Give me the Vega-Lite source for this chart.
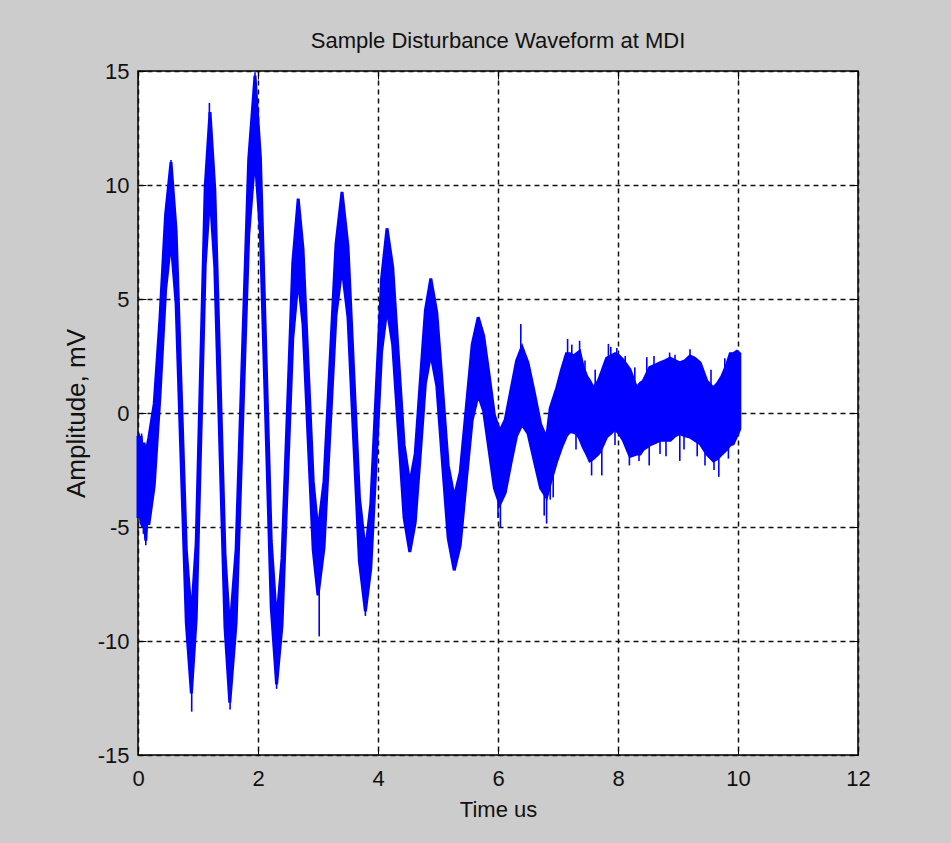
{
  "$schema": "https://vega.github.io/schema/vega-lite/v6.json",
  "width": 720,
  "height": 684,
  "autosize": {"type": "none"},
  "padding": {"left": 138, "top": 71, "right": 93, "bottom": 88},
  "background": "#cccccc",
  "config": {
    "view": {"fill": "white", "stroke": "black", "strokeWidth": 1.5},
    "axis": {
      "labelFont": "Liberation Sans",
      "labelFontSize": 22,
      "labelColor": "#111111",
      "labelFlush": false,
      "titleFont": "Liberation Sans",
      "titleFontSize": 22,
      "titleFontWeight": "normal",
      "titleColor": "#111111",
      "domain": false,
      "tickColor": "black",
      "tickSize": -8,
      "tickWidth": 1,
      "zindex": 1
    }
  },
  "title": {
    "text": "Sample Disturbance Waveform at MDI",
    "font": "Liberation Sans",
    "fontSize": 22,
    "fontWeight": "normal",
    "color": "#111111",
    "anchor": "middle",
    "offset": 7
  },
  "datasets": {
    "wave": [
      {"t": 0.00, "hi": -1.0, "lo": -4.6},
      {"t": 0.03, "hi": -1.6, "lo": -4.3},
      {"t": 0.05, "hi": -1.0, "lo": -4.8},
      {"t": 0.08, "hi": -1.8, "lo": -5.0},
      {"t": 0.10, "hi": -1.3, "lo": -4.5},
      {"t": 0.13, "hi": -2.0, "lo": -5.6},
      {"t": 0.15, "hi": -1.5, "lo": -4.6},
      {"t": 0.18, "hi": -1.1, "lo": -4.9},
      {"t": 0.27, "hi": 0.4, "lo": -3.2},
      {"t": 0.365, "hi": 4.1, "lo": 0.7},
      {"t": 0.46, "hi": 8.7, "lo": 5.4},
      {"t": 0.55, "hi": 11.0, "lo": 7.6},
      {"t": 0.635, "hi": 8.0, "lo": 4.8},
      {"t": 0.72, "hi": 1.0, "lo": -2.2},
      {"t": 0.805, "hi": -6.0, "lo": -9.2},
      {"t": 0.89, "hi": -9.0, "lo": -12.3},
      {"t": 0.97, "hi": -5.7, "lo": -9.0},
      {"t": 1.045, "hi": 2.1, "lo": -1.3},
      {"t": 1.12, "hi": 9.9, "lo": 6.5},
      {"t": 1.2, "hi": 13.2, "lo": 9.7},
      {"t": 1.28, "hi": 9.8, "lo": 6.4},
      {"t": 1.365, "hi": 1.8, "lo": -1.5},
      {"t": 1.45, "hi": -6.2, "lo": -9.4},
      {"t": 1.53, "hi": -9.6, "lo": -12.7},
      {"t": 1.635, "hi": -6.0, "lo": -9.2},
      {"t": 1.74, "hi": 2.6, "lo": -0.7},
      {"t": 1.845, "hi": 11.1, "lo": 7.8},
      {"t": 1.95, "hi": 14.8, "lo": 11.3},
      {"t": 2.04, "hi": 11.2, "lo": 7.9},
      {"t": 2.13, "hi": 2.8, "lo": -0.3},
      {"t": 2.22, "hi": -5.6, "lo": -8.5},
      {"t": 2.31, "hi": -9.2, "lo": -11.9},
      {"t": 2.40, "hi": -6.4, "lo": -9.3},
      {"t": 2.49, "hi": 0.1, "lo": -3.0},
      {"t": 2.58, "hi": 6.6, "lo": 3.3},
      {"t": 2.67, "hi": 9.4, "lo": 5.9},
      {"t": 2.75, "hi": 7.2, "lo": 3.9},
      {"t": 2.835, "hi": 2.1, "lo": -1.1},
      {"t": 2.92, "hi": -3.0, "lo": -6.0},
      {"t": 3.0, "hi": -5.2, "lo": -8.0},
      {"t": 3.10, "hi": -3.0, "lo": -5.9},
      {"t": 3.20, "hi": 2.2, "lo": -0.8},
      {"t": 3.30, "hi": 7.4, "lo": 4.3},
      {"t": 3.40, "hi": 9.7, "lo": 6.4},
      {"t": 3.50, "hi": 7.3, "lo": 4.2},
      {"t": 3.595, "hi": 1.8, "lo": -1.2},
      {"t": 3.69, "hi": -3.7, "lo": -6.5},
      {"t": 3.79, "hi": -6.1, "lo": -8.7},
      {"t": 3.88, "hi": -4.0, "lo": -6.8},
      {"t": 3.97, "hi": 1.0, "lo": -2.1},
      {"t": 4.06, "hi": 5.9, "lo": 2.7},
      {"t": 4.15, "hi": 8.1, "lo": 4.6},
      {"t": 4.245, "hi": 6.4, "lo": 3.0},
      {"t": 4.34, "hi": 2.5, "lo": -0.8},
      {"t": 4.435, "hi": -1.4, "lo": -4.6},
      {"t": 4.53, "hi": -3.1, "lo": -6.1},
      {"t": 4.62, "hi": -1.8, "lo": -4.8},
      {"t": 4.705, "hi": 1.4, "lo": -1.8},
      {"t": 4.79, "hi": 4.5, "lo": 1.3},
      {"t": 4.88, "hi": 5.9, "lo": 2.6},
      {"t": 4.98, "hi": 4.4, "lo": 1.2},
      {"t": 5.075, "hi": 1.1, "lo": -2.2},
      {"t": 5.17, "hi": -2.3, "lo": -5.5},
      {"t": 5.27, "hi": -3.7, "lo": -6.9},
      {"t": 5.37, "hi": -2.6, "lo": -5.8},
      {"t": 5.47, "hi": 0.2, "lo": -3.0},
      {"t": 5.57, "hi": 3.0, "lo": -0.3},
      {"t": 5.67, "hi": 4.2, "lo": 0.8},
      {"t": 5.76, "hi": 3.4, "lo": 0.1},
      {"t": 5.85, "hi": 1.7, "lo": -1.6},
      {"t": 5.94, "hi": -0.1, "lo": -3.3},
      {"t": 6.03, "hi": -0.8, "lo": -4.0},
      {"t": 6.12, "hi": -0.3, "lo": -3.5},
      {"t": 6.215, "hi": 1.0, "lo": -2.2},
      {"t": 6.31, "hi": 2.3, "lo": -1.0},
      {"t": 6.40, "hi": 2.9, "lo": -0.5},
      {"t": 6.50, "hi": 2.2, "lo": -0.9},
      {"t": 6.605, "hi": 0.9, "lo": -2.1},
      {"t": 6.71, "hi": -0.5, "lo": -3.3},
      {"t": 6.81, "hi": -1.1, "lo": -3.7},
      {"t": 6.87, "hi": 0.2, "lo": -3.1},
      {"t": 6.98, "hi": 1.1, "lo": -2.1},
      {"t": 7.06, "hi": 1.9, "lo": -1.5},
      {"t": 7.14, "hi": 2.6, "lo": -1.0},
      {"t": 7.20, "hi": 2.6, "lo": -0.8},
      {"t": 7.26, "hi": 2.5, "lo": -0.85},
      {"t": 7.31, "hi": 2.6, "lo": -0.9},
      {"t": 7.36, "hi": 2.7, "lo": -1.1},
      {"t": 7.42, "hi": 2.0, "lo": -1.5},
      {"t": 7.48, "hi": 1.6, "lo": -1.8},
      {"t": 7.53, "hi": 1.4, "lo": -2.1},
      {"t": 7.59, "hi": 1.1, "lo": -2.0},
      {"t": 7.67, "hi": 1.4, "lo": -1.8},
      {"t": 7.70, "hi": 1.6, "lo": -1.7},
      {"t": 7.81, "hi": 2.4, "lo": -1.05},
      {"t": 7.88, "hi": 2.5, "lo": -0.9},
      {"t": 7.95, "hi": 2.6, "lo": -0.7},
      {"t": 8.02, "hi": 2.5, "lo": -0.9},
      {"t": 8.09, "hi": 2.3, "lo": -1.2},
      {"t": 8.20, "hi": 1.9, "lo": -1.9},
      {"t": 8.31, "hi": 1.1, "lo": -1.8},
      {"t": 8.37, "hi": 1.3, "lo": -1.8},
      {"t": 8.42, "hi": 1.4, "lo": -1.6},
      {"t": 8.53, "hi": 2.0, "lo": -1.4},
      {"t": 8.62, "hi": 2.1, "lo": -1.3},
      {"t": 8.70, "hi": 2.2, "lo": -1.2},
      {"t": 8.79, "hi": 2.3, "lo": -1.2},
      {"t": 8.87, "hi": 2.4, "lo": -1.2},
      {"t": 8.95, "hi": 2.3, "lo": -1.0},
      {"t": 9.03, "hi": 2.2, "lo": -0.9},
      {"t": 9.12, "hi": 2.3, "lo": -1.0},
      {"t": 9.20, "hi": 2.5, "lo": -1.05},
      {"t": 9.28, "hi": 2.4, "lo": -1.2},
      {"t": 9.37, "hi": 2.2, "lo": -1.35},
      {"t": 9.48, "hi": 1.4, "lo": -1.8},
      {"t": 9.59, "hi": 1.1, "lo": -2.1},
      {"t": 9.66, "hi": 1.3, "lo": -2.0},
      {"t": 9.73, "hi": 1.6, "lo": -1.8},
      {"t": 9.81, "hi": 2.1, "lo": -1.6},
      {"t": 9.87, "hi": 2.6, "lo": -1.4},
      {"t": 9.92, "hi": 2.6, "lo": -1.35},
      {"t": 9.98, "hi": 2.7, "lo": -1.0},
      {"t": 10.03, "hi": 2.6, "lo": -0.7}
    ],
    "spikes": [
      {"t": 0.02, "a": -0.9, "b": -2.0},
      {"t": 0.06, "a": -0.9, "b": -2.0},
      {"t": 0.09, "a": -4.2, "b": -5.3},
      {"t": 0.13, "a": -4.5, "b": -5.8},
      {"t": 0.55, "a": 10.5, "b": 11.1},
      {"t": 0.895, "a": -12.0, "b": -13.1},
      {"t": 1.19, "a": 13.0, "b": 13.6},
      {"t": 1.535, "a": -12.5, "b": -13.0},
      {"t": 1.95, "a": 14.3, "b": 14.95},
      {"t": 2.31, "a": -11.5, "b": -12.1},
      {"t": 3.02, "a": -7.5, "b": -9.8},
      {"t": 3.79, "a": -8.3, "b": -8.9},
      {"t": 6.0, "a": -3.6, "b": -4.6},
      {"t": 6.04, "a": -3.8, "b": -5.0},
      {"t": 6.38, "a": 2.8, "b": 3.9},
      {"t": 6.77, "a": -3.4, "b": -4.5},
      {"t": 6.81, "a": -3.6, "b": -4.85},
      {"t": 6.87, "a": -3.0, "b": -3.8},
      {"t": 6.92, "a": -2.5, "b": -3.7},
      {"t": 7.16, "a": 2.4, "b": 3.25},
      {"t": 7.23, "a": 2.4, "b": 3.0},
      {"t": 7.30, "a": -0.8, "b": -1.6},
      {"t": 7.36, "a": 2.5, "b": 3.17},
      {"t": 7.45, "a": 1.8, "b": 2.3},
      {"t": 7.56, "a": -2.0, "b": -2.74},
      {"t": 7.62, "a": 1.2, "b": 1.9},
      {"t": 7.73, "a": -1.6, "b": -2.74},
      {"t": 7.84, "a": 2.3, "b": 3.03},
      {"t": 7.88, "a": 2.4, "b": 2.9},
      {"t": 7.95, "a": -0.7, "b": -1.4},
      {"t": 7.98, "a": 2.5, "b": 2.85},
      {"t": 8.12, "a": 2.1, "b": 2.5},
      {"t": 8.19, "a": -1.8, "b": -2.3},
      {"t": 8.28, "a": 1.3, "b": 2.0},
      {"t": 8.35, "a": -1.7, "b": -2.1},
      {"t": 8.48, "a": 1.8, "b": 2.45},
      {"t": 8.52, "a": -1.4, "b": -2.3},
      {"t": 8.60, "a": 2.0, "b": 2.5},
      {"t": 8.70, "a": -1.1, "b": -1.8},
      {"t": 8.80, "a": -1.2, "b": -1.9},
      {"t": 8.86, "a": 2.3, "b": 2.65},
      {"t": 8.95, "a": 2.2, "b": 2.55},
      {"t": 9.03, "a": -0.9, "b": -2.1},
      {"t": 9.10, "a": -0.9, "b": -1.6},
      {"t": 9.20, "a": 2.4, "b": 2.8},
      {"t": 9.32, "a": -1.2, "b": -1.9},
      {"t": 9.45, "a": -1.6, "b": -2.3},
      {"t": 9.55, "a": 1.2, "b": 1.9},
      {"t": 9.60, "a": -2.0, "b": -2.5},
      {"t": 9.68, "a": -1.9, "b": -2.8},
      {"t": 9.78, "a": 1.8, "b": 2.4},
      {"t": 9.84, "a": -1.5, "b": -2.0},
      {"t": 9.89, "a": 2.5, "b": 2.65}
    ]
  },
  "layer": [
    {
      "data": {"name": "wave"},
      "mark": {"type": "area", "color": "#0000ff", "stroke": "#0000ff", "strokeWidth": 3, "strokeJoin": "miter", "opacity": 1},
      "encoding": {
        "x": {
          "field": "t", "type": "quantitative",
          "scale": {"domain": [0, 12], "nice": false, "zero": false},
          "axis": {
            "orient": "bottom", "values": [0, 2, 4, 6, 8, 10, 12],
            "labelExpr": "'' + datum.value",
            "labelPadding": 21, "title": "Time us", "titlePadding": 10,
            "grid": true, "gridColor": "#111111", "gridDash": [5, 4], "gridWidth": 1.5
          }
        },
        "y": {
          "field": "hi", "type": "quantitative",
          "scale": {"domain": [-15, 15], "nice": false, "zero": false},
          "axis": {
            "orient": "left", "values": [-15, -10, -5, 0, 5, 10, 15],
            "labelExpr": "'' + datum.value",
            "labelPadding": 17, "title": "Amplitude, mV",
            "titleFontSize": 26, "titlePadding": 8,
            "grid": true, "gridColor": "#111111", "gridDash": [5, 4], "gridWidth": 1.5
          }
        },
        "y2": {"field": "lo"}
      }
    },
    {
      "data": {"name": "spikes"},
      "mark": {"type": "rule", "color": "#0000ff", "strokeWidth": 1.6},
      "encoding": {
        "x": {
          "field": "t", "type": "quantitative",
          "scale": {"domain": [0, 12], "nice": false, "zero": false},
          "axis": {"orient": "top", "values": [0, 2, 4, 6, 8, 10, 12], "labels": false, "title": null, "grid": false}
        },
        "y": {
          "field": "a", "type": "quantitative",
          "scale": {"domain": [-15, 15], "nice": false, "zero": false},
          "axis": {"orient": "right", "values": [-15, -10, -5, 0, 5, 10, 15], "labels": false, "title": null, "grid": false}
        },
        "y2": {"field": "b"}
      }
    }
  ],
  "resolve": {"axis": {"x": "independent", "y": "independent"}}
}
